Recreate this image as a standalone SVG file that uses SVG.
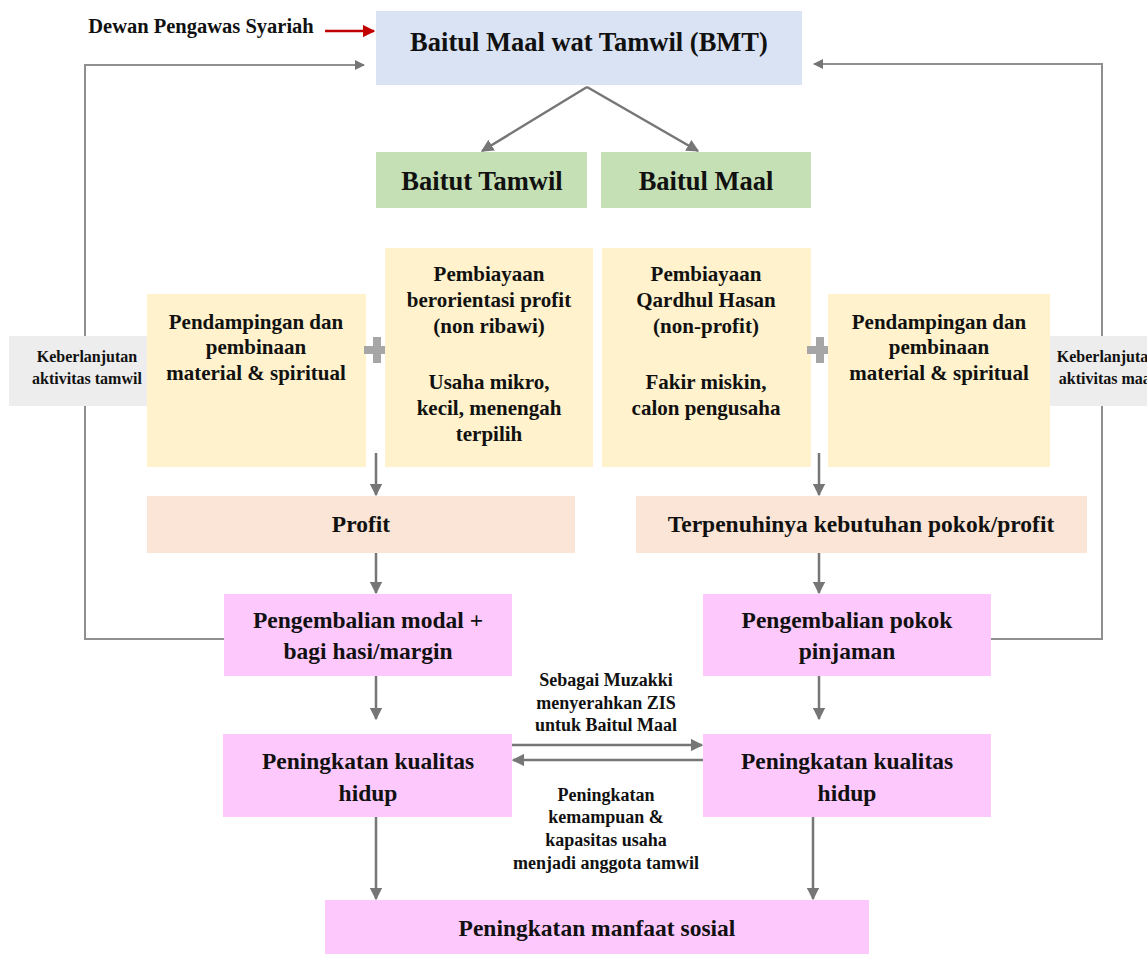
<svg xmlns="http://www.w3.org/2000/svg" width="1147" height="954" viewBox="0 0 1147 954" font-family="'Liberation Serif', 'DejaVu Serif', serif">
<style>
text{font-family:'Liberation Serif','DejaVu Serif',serif;font-weight:bold;fill:#111;text-anchor:middle}
.t22{font-size:26.5px}.t20{font-size:23.5px}.t19{font-size:23.5px}.t18{font-size:21px}.t15{font-size:18px}.tk{font-size:16px}.t17{font-size:20.5px}
.con{stroke:#767676;stroke-width:2.5;fill:none}
.loop{stroke:#8f8f8f;stroke-width:2;fill:none}
.blue{fill:#dae3f3}.green{fill:#c5e0b4}.yel{fill:#fff2cc}.peach{fill:#fbe5d6}.pink{fill:#fdc9fd}.grey{fill:#ededed}
</style>
<defs>
<marker id="ah" viewBox="0 0 10 10" refX="9" refY="5" markerWidth="5" markerHeight="5" orient="auto" markerUnits="strokeWidth"><path d="M0,0L10,5L0,10z" fill="#767676"/></marker>
<marker id="ahr" viewBox="0 0 10 10" refX="9" refY="5" markerWidth="5" markerHeight="5" orient="auto" markerUnits="strokeWidth"><path d="M0,0L10,5L0,10z" fill="#c00000"/></marker>
</defs>
<rect width="1147" height="954" fill="#fff"/>
<g id="connectors">
<path class="loop" d="M224,639H85V65H364" marker-end="url(#ah)"/>
<path class="loop" d="M991,639H1102V64H814" marker-end="url(#ah)"/>
<path d="M325,31H374" stroke="#c00000" stroke-width="2.5" fill="none" marker-end="url(#ahr)"/>
<path class="con" d="M587,87L482,151" marker-end="url(#ah)"/>
<path class="con" d="M587,87L698,151" marker-end="url(#ah)"/>
<path class="con" d="M376,453V495" marker-end="url(#ah)"/>
<path class="con" d="M819,453V495" marker-end="url(#ah)"/>
<path class="con" d="M376,553V593" marker-end="url(#ah)"/>
<path class="con" d="M819,553V593" marker-end="url(#ah)"/>
<path class="con" d="M376,676V719" marker-end="url(#ah)"/>
<path class="con" d="M819,676V719" marker-end="url(#ah)"/>
<path class="con" d="M512,745H702" marker-end="url(#ah)"/>
<path class="con" d="M703,760H513" marker-end="url(#ah)"/>
<path class="con" d="M376,817V899" marker-end="url(#ah)"/>
<path class="con" d="M813,817V899" marker-end="url(#ah)"/>
</g>
<g id="dps"><text class="t17" x="201" y="33">Dewan Pengawas Syariah</text></g>
<g id="bmt"><rect class="blue" x="376" y="11" width="426" height="74"/><text class="t22" x="589" y="51">Baitul Maal wat Tamwil (BMT)</text></g>
<g id="baitut-tamwil"><rect class="green" x="376" y="152" width="211" height="56"/><text class="t22" x="482" y="190">Baitut Tamwil</text></g>
<g id="baitul-maal"><rect class="green" x="601" y="152" width="210" height="56"/><text class="t22" x="706" y="190">Baitul Maal</text></g>
<g id="keberlanjutan-tamwil"><rect class="grey" x="9" y="336" width="156" height="70"/><text class="tk" x="87" y="362">Keberlanjutan</text><text class="tk" x="87" y="384">aktivitas tamwil</text></g>
<g id="keberlanjutan-maal"><rect class="grey" x="1031" y="336" width="156" height="70"/><text class="tk" x="1107" y="362">Keberlanjutan</text><text class="tk" x="1107" y="384">aktivitas maal</text></g>
<g id="pendampingan-left"><rect class="yel" x="147" y="294" width="219" height="173"/><text class="t18" x="256" y="329">Pendampingan dan</text><text class="t18" x="256" y="354">pembinaan</text><text class="t18" x="256" y="380">material &amp; spiritual</text></g>
<g id="plus-left"><path d="M373,337h8v9h9v8h-9v9h-8v-9h-9v-8h9z" fill="#a6a6a6"/></g>
<g id="pembiayaan-profit"><rect class="yel" x="385" y="248" width="208" height="219"/><text class="t18" x="489" y="281">Pembiayaan</text><text class="t18" x="489" y="307">berorientasi profit</text><text class="t18" x="489" y="333">(non ribawi)</text><text class="t18" x="489" y="389">Usaha mikro,</text><text class="t18" x="489" y="415">kecil, menengah</text><text class="t18" x="489" y="441">terpilih</text></g>
<g id="pembiayaan-qardhul"><rect class="yel" x="602" y="248" width="209" height="219"/><text class="t18" x="706" y="281">Pembiayaan</text><text class="t18" x="706" y="307">Qardhul Hasan</text><text class="t18" x="706" y="333">(non-profit)</text><text class="t18" x="706" y="389">Fakir miskin,</text><text class="t18" x="706" y="415">calon pengusaha</text></g>
<g id="plus-right"><path d="M816,337h8v9h9v8h-9v9h-8v-9h-9v-8h9z" fill="#a6a6a6"/></g>
<g id="pendampingan-right"><rect class="yel" x="828" y="294" width="222" height="173"/><text class="t18" x="939" y="329">Pendampingan dan</text><text class="t18" x="939" y="354">pembinaan</text><text class="t18" x="939" y="380">material &amp; spiritual</text></g>
<g id="profit"><rect class="peach" x="147" y="496" width="428" height="57"/><text class="t19" x="361" y="532">Profit</text></g>
<g id="terpenuhinya"><rect class="peach" x="636" y="496" width="451" height="57"/><text class="t19" x="861" y="532">Terpenuhinya kebutuhan pokok/profit</text></g>
<g id="pengembalian-modal"><rect class="pink" x="224" y="594" width="288" height="82"/><text class="t20" x="368" y="628">Pengembalian modal +</text><text class="t20" x="368" y="659">bagi hasi/margin</text></g>
<g id="pengembalian-pokok"><rect class="pink" x="703" y="594" width="288" height="82"/><text class="t20" x="847" y="628">Pengembalian pokok</text><text class="t20" x="847" y="659">pinjaman</text></g>
<g id="label-muzakki"><text class="t15" x="606" y="686">Sebagai Muzakki</text><text class="t15" x="606" y="709">menyerahkan ZIS</text><text class="t15" x="606" y="731">untuk Baitul Maal</text></g>
<g id="kualitas-left"><rect class="pink" x="223" y="734" width="289" height="83"/><text class="t20" x="368" y="769">Peningkatan kualitas</text><text class="t20" x="368" y="801">hidup</text></g>
<g id="kualitas-right"><rect class="pink" x="703" y="734" width="288" height="83"/><text class="t20" x="847" y="769">Peningkatan kualitas</text><text class="t20" x="847" y="801">hidup</text></g>
<g id="label-kemampuan"><text class="t15" x="606" y="801">Peningkatan</text><text class="t15" x="606" y="823">kemampuan &amp;</text><text class="t15" x="606" y="846">kapasitas usaha</text><text class="t15" x="606" y="869">menjadi anggota tamwil</text></g>
<g id="manfaat-sosial"><rect class="pink" x="325" y="900" width="544" height="54"/><text class="t20" x="597" y="936">Peningkatan manfaat sosial</text></g>
</svg>
